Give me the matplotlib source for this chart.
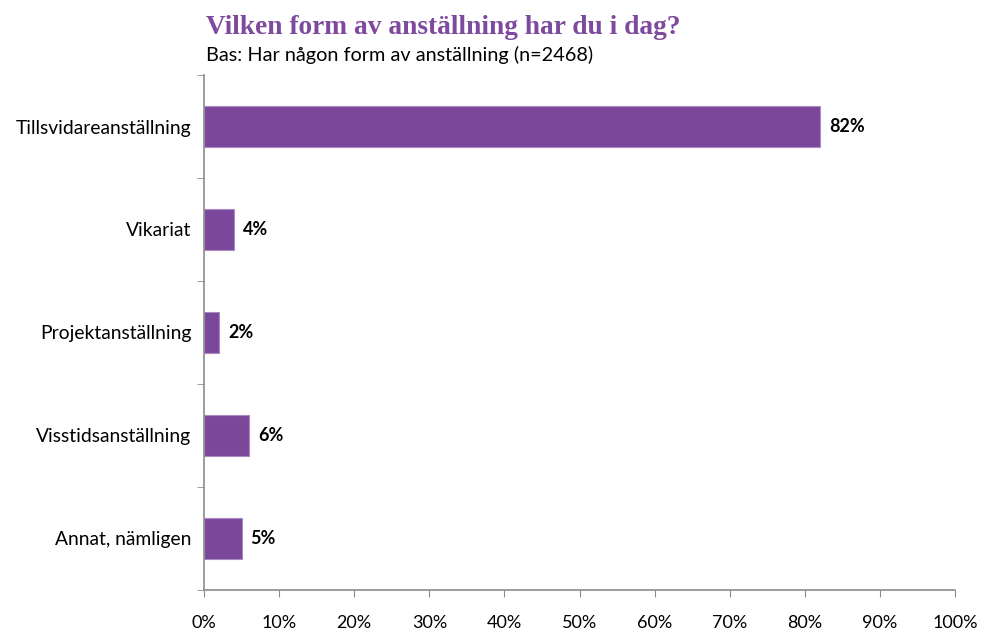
import matplotlib.pyplot as plt
import numpy as np

categories = [
    "Tillsvidareanställning",
    "Vikariat",
    "Projektanställning",
    "Visstidsanställning",
    "Annat, nämligen",
]
values = [82, 4, 2, 6, 5]
xticks = list(range(0, 101, 10))

purple = "#7B479B"
axis_gray = "#8C8C8C"
plt.rcParams["font.family"] = ["Lato", "DejaVu Sans"]

fig = plt.figure(figsize=(9.81, 6.33), dpi=100)
ax = fig.add_axes([0.208, 0.068, 0.7655, 0.8135])

y = np.arange(len(categories))
ax.barh(y, values, height=0.39, color=purple, edgecolor="#A98BC0", linewidth=0.8)

for yi, v in zip(y, values):
    ax.text(v + 1.2, yi, f"{v}%", va="center", ha="left",
            fontsize=13, fontweight="bold", color="black")

ax.set_xlim(0, 100)
ax.set_ylim(len(categories) - 0.5, -0.5)
ax.set_xticks(xticks)
ax.set_xticklabels([f"{t}%" for t in xticks], fontsize=13)
ax.set_yticks(y)
ax.set_yticklabels(categories, fontsize=13.9)
ax.tick_params(axis="y", length=0, pad=9)
ax.set_yticks(np.arange(-0.5, len(categories)), minor=True)
ax.tick_params(axis="y", which="minor", length=5, color=axis_gray)
ax.tick_params(axis="x", length=5, color=axis_gray, pad=13)

for s in ["top", "right"]:
    ax.spines[s].set_visible(False)
for s in ["left", "bottom"]:
    ax.spines[s].set_color(axis_gray)
    ax.spines[s].set_linewidth(1.2)

fig.text(206 / 981, 1 - 27 / 633, "Vilken form av anställning har du i dag?",
         fontsize=19.7, fontweight="bold", color="#7E4A9E",
         family=["Liberation Serif", "DejaVu Serif"], va="center", ha="left")
fig.text(206 / 981, 1 - 55 / 633, "Bas: Har någon form av anställning (n=2468)",
         fontsize=14.3, color="black", va="center", ha="left")

fig.savefig("out.png", dpi=100)
